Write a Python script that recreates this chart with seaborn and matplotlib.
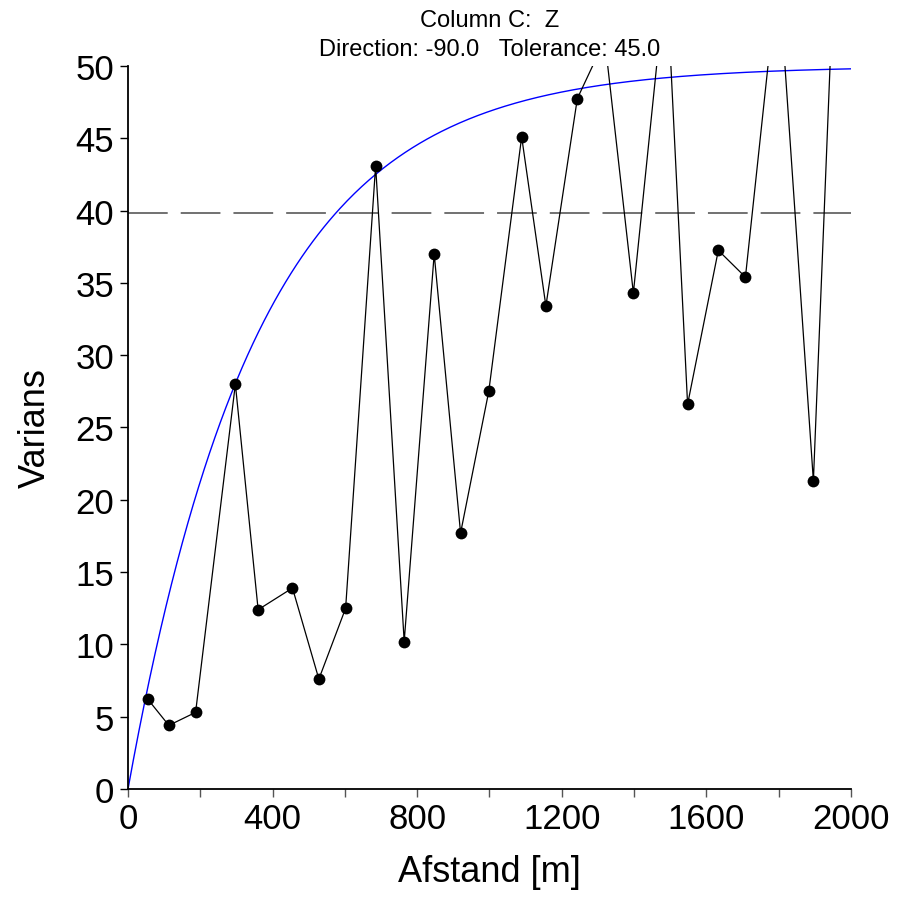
import numpy as np
import pandas as pd
import matplotlib
matplotlib.use("Agg")
import matplotlib.pyplot as plt
import seaborn as sns
from matplotlib.ticker import MultipleLocator

# experimental variogram (lag distance, semivariance); some points lie above the 50 limit
lag_distance = [55, 113, 187, 297, 360, 455, 528, 602, 685, 764, 847, 920, 998,
                1089, 1156, 1243, 1319, 1398, 1489, 1548, 1633, 1708, 1799, 1896, 1975]
semivariance = [6.2, 4.4, 5.3, 28.0, 12.4, 13.9, 7.6, 12.5, 43.1, 10.2, 37.0, 17.7, 27.5,
                45.1, 33.4, 47.75, 51.8, 34.3, 56.5, 26.6, 37.25, 35.4, 56.7, 21.3, 70.5]

# fitted exponential model
model_sill = 50.0
model_range = 1083.0
data_variance = 39.85

x_ticks = [0, 400, 800, 1200, 1600, 2000]
y_ticks = [0, 5, 10, 15, 20, 25, 30, 35, 40, 45, 50]

sns.set_theme(style="ticks", rc={
    "text.color": "black",
    "axes.labelcolor": "black",
    "xtick.color": "black",
    "ytick.color": "black",
})
plt.rcParams["font.family"] = ["Liberation Sans", "DejaVu Sans"]

df = pd.DataFrame({"lag": lag_distance, "gamma": semivariance})
h = np.linspace(0, 2000, 400)
model = pd.DataFrame({"lag": h, "gamma": model_sill * (1 - np.exp(-3 * h / model_range))})

fig = plt.figure(figsize=(8.97, 9.04), dpi=100)
ax = fig.add_axes([0.1427, 0.1261, 0.8060, 0.7998])

sns.lineplot(data=model, x="lag", y="gamma", color="#0000ff", linewidth=1.0, ax=ax)
ax.axhline(data_variance, color="#666666", linewidth=1.3, dashes=(22, 7.2))
sns.lineplot(data=df, x="lag", y="gamma", sort=False, color="black", linewidth=0.9,
             marker="o", markersize=8.5, markeredgewidth=0, ax=ax)

ax.set_xlim(0, 2000)
ax.set_ylim(0, 50)
ax.set_xticks(x_ticks)
ax.xaxis.set_minor_locator(MultipleLocator(200))
ax.set_yticks(y_ticks)
ax.tick_params(axis="both", which="major", labelsize=25, length=6, width=1,
               color="black", labelcolor="black")
ax.tick_params(axis="x", which="minor", length=6, width=1, color="#555555")
ax.tick_params(axis="x", which="major", color="#555555", pad=3)
ax.tick_params(axis="y", pad=4)

for side in ["left", "bottom"]:
    ax.spines[side].set_linewidth(1.3)
    ax.spines[side].set_color("black")
sns.despine(ax=ax)

ax.set_xlabel("Afstand [m]", fontsize=26, labelpad=14)
ax.set_ylabel("Varians", fontsize=26, labelpad=16)
ax.set_title("Column C:  Z\nDirection: -90.0   Tolerance: 45.0", fontsize=17,
             pad=8, linespacing=1.4, color="black")

fig.savefig("out.png", dpi=100)
